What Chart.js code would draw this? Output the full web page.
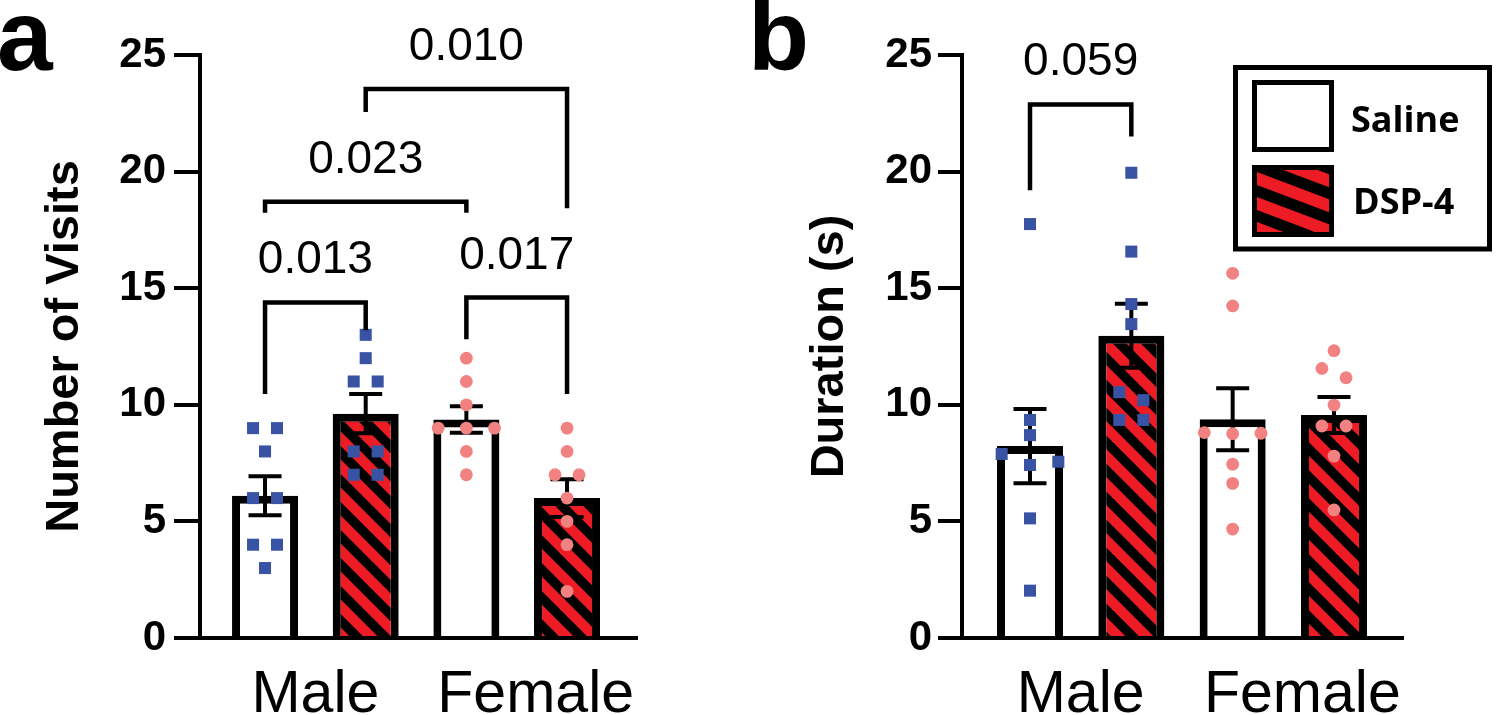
<!DOCTYPE html>
<html><head><meta charset="utf-8">
<script src="https://cdn.jsdelivr.net/npm/chart.js@4.4.1/dist/chart.umd.min.js"></script>
<style>
html,body{margin:0;padding:0;background:#fff;}
#wrap{position:relative;width:1496px;height:715px;overflow:hidden;background:#fff;}
canvas{position:absolute;top:0;}
#ca{left:0}
#cb{left:748px}
</style></head><body>
<div id="wrap"><canvas id="ca" width="748" height="715"></canvas><canvas id="cb" width="748" height="715"></canvas></div>
<script>
// ---------------- data ----------------
const categories = ['Male', 'Female'];
const treatments = ['Saline', 'DSP-4'];
const groupPositions = [1, 2, 3, 4]; // Male/Saline, Male/DSP-4, Female/Saline, Female/DSP-4
const yTickStep = 5;
const yMax = 25;

// Panel a: Number of Visits
const visitsMaleSaline   = [9, 9, 8, 6, 6, 4, 4, 3];
const visitsMaleDSP4     = [13, 12, 11, 11, 8, 8, 7, 7];
const visitsFemaleSaline = [12, 11, 10, 9, 9, 9, 8, 7];
const visitsFemaleDSP4   = [9, 8, 7, 7, 6, 5, 4, 2];
const visitsMean = [6.1, 9.62, 9.37, 6.0];
const visitsSem  = [0.84, 0.84, 0.57, 0.81];
const visitsPLabels  = ['0.013', '0.017', '0.023', '0.010'];
const visitsPFrom    = [1, 3, 1, 2];
const visitsPTo      = [2, 4, 3, 4];
const visitsPBar     = [14.39, 14.6, 18.71, 23.54];
const visitsPLegLeft = [10.46, 12.81, 18.24, 22.56];
const visitsPLegRight= [13.2, 10.46, 18.24, 18.43];

// Panel b: Duration (s)
const durMaleSaline   = [17.75, 9.35, 8.7, 7.89, 7.56, 7.42, 5.13, 2.03];
const durMaleDSP4     = [19.95, 16.57, 14.32, 13.46, 10.54, 10.2, 9.35, 9.35];
const durFemaleSaline = [15.64, 14.24, 8.81, 8.78, 8.76, 7.45, 6.63, 4.67];
const durFemaleDSP4   = [12.32, 11.56, 11.16, 9.99, 9.09, 9.09, 7.8, 5.49];
const durMean = [8.23, 12.96, 9.38, 9.56];
const durSem  = [1.59, 1.37, 1.33, 0.77];
const durPLabels  = ['0.059'];
const durPFrom    = [1];
const durPTo      = [2];
const durPBar     = [22.88];
const durPLegLeft = [19.2];
const durPLegRight= [21.5];

// ---------------- styling ----------------
const FONT = "'Liberation Sans', Arial, sans-serif";
const LEGFONT = "'Open Sans', 'Liberation Sans', sans-serif";
const RED = '#ED1C24';
const BLUE = '#3953A4';
const PINK = '#F28282';
const JIT = 0.119; // horizontal spread step for overlapping points (x units)

function makeHatch(ctx){
  const s = 28, c = document.createElement('canvas');
  c.width = s; c.height = s;
  const g = c.getContext('2d');
  g.fillStyle = RED; g.fillRect(0,0,s,s);
  g.strokeStyle = '#000'; g.lineWidth = 9.5;
  for (let k=-1;k<=1;k++){ g.beginPath(); g.moveTo(-6,-6+k*s); g.lineTo(s+6,s+6+k*s); g.stroke(); }
  return ctx.createPattern(c,'repeat');
}

function spread(vals, pos){
  const order = vals.map((v,i)=>i).sort((a,b)=>vals[b]-vals[a]);
  const pts = []; let i = 0;
  while (i < order.length){
    let j = i+1;
    while (j < order.length && vals[order[j-1]] - vals[order[j]] < 0.55) j++;
    const n = j-i;
    const offs = n===1?[0]: n===2?[-1,1]: n===3?[-2.35,2.35,0]: Array.from({length:n},(_,k)=>(k-(n-1)/2)*2);
    for (let k=0;k<n;k++) pts.push({x: pos + offs[k]*JIT, y: vals[order[i+k]]});
    i = j;
  }
  return pts;
}

function drawLegend(g){
  g.save();
  g.strokeStyle = '#000'; g.lineWidth = 5;
  g.strokeRect(487.5, 67.5, 254, 181.5);
  // Saline swatch
  g.fillStyle = '#fff'; g.fillRect(504, 80, 82, 72);
  g.strokeRect(506.5, 82.5, 77, 67);
  // DSP-4 swatch
  g.fillStyle = '#000'; g.fillRect(504, 165, 82, 72);
  const ix = 509, iy = 170, iw = 72, ih = 62;
  g.save();
  g.beginPath(); g.rect(ix, iy, iw, ih); g.clip();
  g.fillStyle = RED; g.fillRect(ix, iy, iw, ih);
  g.fillStyle = '#000';
  const slope = 0.38, per = 25, th = 12;
  for (let c = -60; c < 120; c += per){
    g.beginPath();
    g.moveTo(ix, iy + c); g.lineTo(ix+iw, iy + c + slope*iw);
    g.lineTo(ix+iw, iy + c + th + slope*iw); g.lineTo(ix, iy + c + th);
    g.closePath(); g.fill();
  }
  g.restore();
  g.fillStyle = '#000';
  g.font = 'bold 36px ' + LEGFONT;
  g.textAlign = 'left'; g.textBaseline = 'alphabetic';
  g.fillText(treatments[0], 603, 132);
  g.fillText(treatments[1], 605, 214);
  g.restore();
}

function panel(id, cfg){
  const ctx = document.getElementById(id).getContext('2d');
  const hatch = makeHatch(ctx);
  const barData = groupPositions.map((p,i)=>({x:p, y:cfg.mean[i]}));
  const datasets = [
    {type:'bar', label:'mean', data:barData, sem:cfg.sem,
     backgroundColor:['#fff', hatch, '#fff', hatch], borderColor:'#000', borderWidth:8,
     borderSkipped:'start', barThickness:66, order:2, inflateAmount:0},
    ...cfg.points.map((vals,i)=>({type:'scatter', data:spread(vals, groupPositions[i]),
      pointStyle: i<2?'rect':'circle', pointRadius: i<2?8.5:6.4,
      backgroundColor: i<2?BLUE:PINK, pointBackgroundColor: i<2?BLUE:PINK,
      borderWidth:0, pointBorderWidth:0, order:1, clip:false}))
  ];
  const decor = {
    id:'decor',
    afterDatasetDraw(chart, args){
      const ds = chart.data.datasets[args.index];
      if (ds.type !== 'bar') return;
      const g = chart.ctx, ys = chart.scales.y;
      g.save(); g.strokeStyle = '#000'; g.lineWidth = 4;
      args.meta.data.forEach((el,i)=>{
        const m = ds.data[i].y, s = ds.sem[i];
        const x = el.x, y1 = ys.getPixelForValue(m+s), y0 = ys.getPixelForValue(m-s);
        g.beginPath();
        g.moveTo(x,y1); g.lineTo(x,y0);
        g.moveTo(x-16.5,y1); g.lineTo(x+16.5,y1);
        g.moveTo(x-16.5,y0); g.lineTo(x+16.5,y0);
        g.stroke();
      });
      g.restore();
    },
    afterDatasetsDraw(chart){
      const g = chart.ctx, xs = chart.scales.x, ys = chart.scales.y;
      g.save();
      g.strokeStyle = '#000'; g.lineWidth = 4.5; g.lineJoin = 'miter'; g.lineCap = 'butt';
      g.fillStyle = '#000'; g.font = '46px ' + FONT; g.textAlign = 'center'; g.textBaseline = 'alphabetic';
      cfg.p.labels.forEach((lab,i)=>{
        const xl = xs.getPixelForValue(cfg.p.from[i]), xr = xs.getPixelForValue(cfg.p.to[i]);
        const yb = ys.getPixelForValue(cfg.p.bar[i]);
        g.beginPath();
        g.moveTo(xl, ys.getPixelForValue(cfg.p.legL[i]));
        g.lineTo(xl, yb); g.lineTo(xr, yb);
        g.lineTo(xr, ys.getPixelForValue(cfg.p.legR[i]));
        g.stroke();
        g.fillText(lab, (xl+xr)/2, yb - 29);
      });
      g.restore();
    },
    afterDraw(chart){
      const g = chart.ctx, xs = chart.scales.x;
      g.save();
      g.fillStyle = '#000'; g.textBaseline = 'alphabetic';
      g.font = '59px ' + FONT; g.textAlign = 'center';
      const nudge = [0, 19];
      categories.forEach((c,i)=>{
        const mid = (groupPositions[2*i] + groupPositions[2*i+1]) / 2;
        g.fillText(c, xs.getPixelForValue(mid) + nudge[i], 712);
      });
      g.font = 'bold 100px ' + FONT; g.textAlign = 'left';
      g.fillText(cfg.letter, cfg.letterX, 70);
      g.restore();
      if (cfg.legend) drawLegend(g);
    }
  };
  return new Chart(ctx, {
    type:'bar',
    data:{datasets},
    options:{
      responsive:false, animation:false, devicePixelRatio:1, events:[],
      layout:{padding:{top:55, right:cfg.padRight, bottom:0, left:0}},
      plugins:{legend:{display:false}, tooltip:{enabled:false}},
      scales:{
        x:{type:'linear', min:cfg.xmin, max:cfg.xmax, offset:false,
           grid:{display:false, drawTicks:false},
           border:{display:true, color:'#000', width:4, z:1},
           ticks:{display:false},
           afterFit:(s)=>{ s.height = 77; }},
        y:{type:'linear', min:0, max:yMax,
           ticks:{stepSize:yTickStep, color:'#000', padding:cfg.tickPad,
                  font:{family:FONT, size:42, weight:'bold'}},
           grid:{display:true, drawOnChartArea:false, drawTicks:true, tickLength:cfg.tickLen,
                 tickWidth:4, tickColor:'#000', lineWidth:4, color:'#000'},
           border:{display:true, color:'#000', width:4, z:1},
           title:{display:true, text:cfg.yTitle, color:'#000',
                  font:{family:FONT, size:47, weight:'bold'}, padding:{top:cfg.titlePad, bottom:0}},
           afterFit:(s)=>{ s.width = cfg.yWidth; }}
      }
    },
    plugins:[decor]
  });
}

panel('ca', {
  mean: visitsMean, sem: visitsSem,
  points: [visitsMaleSaline, visitsMaleDSP4, visitsFemaleSaline, visitsFemaleDSP4],
  p: {labels: visitsPLabels, from: visitsPFrom, to: visitsPTo, bar: visitsPBar, legL: visitsPLegLeft, legR: visitsPLegRight},
  yTitle: 'Number of Visits', letter: 'a', letterX: -3,
  xmin: 0.354, xmax: 4.695, padRight: 111, yWidth: 200, tickLen: 26, tickPad: 8, titlePad: 37, legend: false
});
panel('cb', {
  mean: durMean, sem: durSem,
  points: [durMaleSaline, durMaleDSP4, durFemaleSaline, durFemaleDSP4],
  p: {labels: durPLabels, from: durPFrom, to: durPTo, bar: durPBar, legL: durPLegLeft, legR: durPLegRight},
  yTitle: 'Duration (s)', letter: 'b', letterX: 0,
  xmin: 0.329, xmax: 4.681, padRight: 93, yWidth: 214, tickLen: 24, tickPad: 6, titlePad: 54, legend: true
});
</script>
</body></html>
